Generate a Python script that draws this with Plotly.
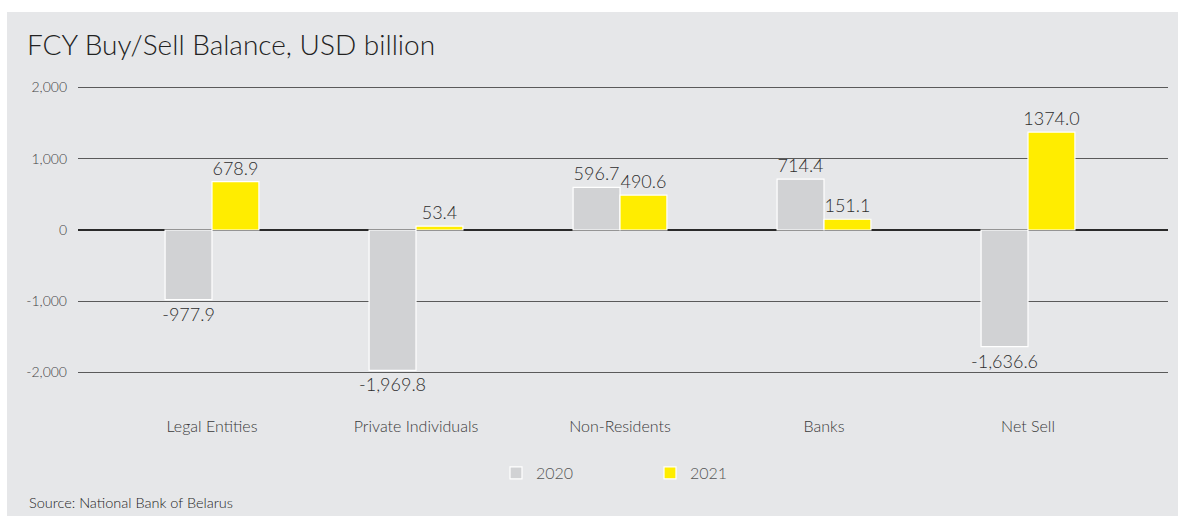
import plotly.graph_objects as go

# Data
categories = ["Legal Entities", "Private Individuals", "Non-Residents", "Banks", "Net Sell"]
values_2020 = [-977.9, -1969.8, 596.7, 714.4, -1636.6]
values_2021 = [678.9, 53.4, 490.6, 151.1, 1374.0]
labels_2020 = ["-977.9", "-1,969.8", "596.7", "714.4", "-1,636.6"]
labels_2021 = ["678.9", "53.4", "490.6", "151.1", "1374.0"]
y_ticks = [-2000, -1000, 0, 1000, 2000]
y_tick_labels = ["-2,000", "-1,000", "0", "1,000", "2,000"]

W, H = 1178, 516
L, R, T, B = 78, 10, 86, 142
pw, ph = W - L - R, H - T - B

def px_x(p):
    return (p - L) / pw

def px_y(p):
    return (H - B - p) / ph

FONT = "Lato, 'Noto Sans', sans-serif"
BG = "#e6e7e9"

fig = go.Figure()
fig.add_trace(go.Bar(
    x=categories, y=values_2020, name="2020",
    marker=dict(color="#d1d2d4", line=dict(color="white", width=1.2)),
    text=labels_2020, textposition="outside", cliponaxis=False,
    constraintext="none",
    textfont=dict(size=18, color="#2e2e2e", family=FONT, weight=300),
))
fig.add_trace(go.Bar(
    x=categories, y=values_2021, name="2021",
    marker=dict(color="#ffed00", line=dict(color="white", width=1.2)),
    text=labels_2021, textposition="outside", cliponaxis=False,
    constraintext="none",
    textfont=dict(size=18, color="#2e2e2e", family=FONT, weight=300),
))

fig.update_layout(
    width=W, height=H,
    margin=dict(l=L, r=R, t=T, b=B),
    paper_bgcolor="white",
    plot_bgcolor="rgba(0,0,0,0)",
    barmode="group", bargap=0.54, bargroupgap=0.0,
    font=dict(family=FONT, color="#333333", weight=300),
    title=dict(
        text="FCY Buy/Sell Balance, USD billion",
        x=27 / W, xanchor="left", y=1 - 45 / H, yanchor="middle",
        font=dict(size=28, color="#222222", family=FONT, weight=300),
    ),
    xaxis=dict(
        type="category",
        range=[-(212 - L) / 204, 4 + (W - R - 1028) / 204],
        showgrid=False, zeroline=False, showline=False, ticks="",
        ticklabelstandoff=41,
        tickfont=dict(size=16, color="#3a3a3a", family=FONT, weight=300),
    ),
    yaxis=dict(
        range=[-2020, 2020],
        tickvals=y_ticks, ticktext=y_tick_labels,
        showgrid=True, gridcolor="#5a5a5a", gridwidth=1,
        zeroline=True, zerolinecolor="#2a2a2a", zerolinewidth=2,
        ticks="", ticklabelstandoff=10,
        tickfont=dict(size=14, color="#444444", family=FONT, weight=300),
    ),
    legend=dict(
        orientation="h", x=px_x(650), xanchor="center",
        y=px_y(473), yanchor="middle",
        bgcolor="rgba(0,0,0,0)",
        entrywidth=109, entrywidthmode="pixels",
        font=dict(size=16, color="#555555", family=FONT, weight=300),
    ),
    showlegend=True,
)

# Panel background
fig.add_shape(
    type="rect", xref="paper", yref="paper", layer="below",
    x0=px_x(7), x1=px_x(W + 2), y0=px_y(H + 2), y1=px_y(12),
    fillcolor=BG, line=dict(width=0),
)

fig.add_annotation(
    text="Source: National Bank of Belarus",
    xref="paper", yref="paper", x=px_x(27), y=px_y(502),
    xanchor="left", yanchor="middle", showarrow=False,
    font=dict(size=14.5, color="#1e1e1e", family=FONT, weight=300),
)

fig.write_html("out.html")
